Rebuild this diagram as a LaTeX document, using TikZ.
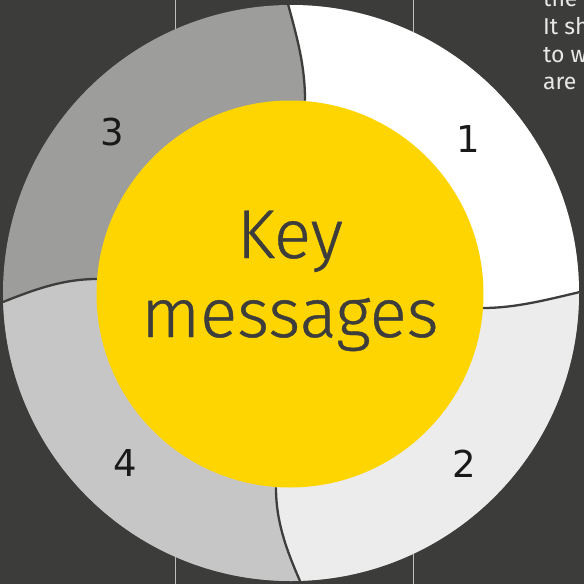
\documentclass[tikz,border=0pt]{standalone}
\usepackage{fontspec}
\newfontfamily\keyfont{Fira Sans Light}[FakeBold=0.6]
\newfontfamily\notefont{Fira Sans}
\newfontfamily\numfont{DejaVu Sans}
\definecolor{bg}{RGB}{60,60,59}
\definecolor{rule}{RGB}{190,190,190}
\definecolor{seg1}{RGB}{255,255,255}
\definecolor{seg2}{RGB}{236,236,236}
\definecolor{seg3}{RGB}{157,157,155}
\definecolor{seg4}{RGB}{198,198,198}
\definecolor{ey}{RGB}{255,213,0}
\definecolor{ink}{RGB}{61,61,60}
\definecolor{note}{RGB}{232,232,232}
\begin{document}
\begin{tikzpicture}[x=1pt,y=-1pt,line join=round,line cap=round,
	divider/.style={line width=2.3pt,ink},
	num/.style={font=\numfont\fontsize{37}{40}\selectfont,text=black!90},
	keytext/.style={font=\keyfont\fontsize{69}{79}\selectfont,text=ink,anchor=base,inner sep=0pt}]
	\coordinate (O) at (291,293);
	\coordinate (Y) at (290,294);
	\coordinate (T) at (288,4);
	\coordinate (T-1) at (297.5,39);
	\coordinate (T-2) at (305,66);
	\coordinate (T-3) at (305,100);
	\coordinate (R) at (580,292);
	\coordinate (R-1) at (546,300);
	\coordinate (R-2) at (515,308);
	\coordinate (R-3) at (483,308);
	\coordinate (B) at (300,581);
	\coordinate (B-1) at (286,549);
	\coordinate (B-2) at (276,521);
	\coordinate (B-3) at (276,488);
	\coordinate (L) at (3,302);
	\coordinate (L-1) at (38,288);
	\coordinate (L-2) at (65,279);
	\coordinate (L-3) at (97,279);
	\fill[bg] (0,0) rectangle (584,584);
	\useasboundingbox (0,0) rectangle (584,584);
	\draw[line width=1pt,rule] (175,0)--(175,584);
	\draw[line width=1pt,rule] (413,0)--(413,584);
	\foreach \y/\t in {6.5/the,34.3/It sh,62.1/to w,89.9/are}
		\node[anchor=base west,inner sep=0pt,text=note,font=\notefont\fontsize{23}{28}\selectfont] at (543,\y) {\t};
	\begin{scope}
		\clip (O) circle[radius=288];
		\fill[seg3] (O) circle[radius=290];
		\fill[seg1] (O)--(T-3) .. controls (T-2) and (T-1) .. (T)--(288,-10)--(600,-10)--(600,292)--(R) .. controls (R-1) and (R-2) .. (R-3)--cycle;
		\fill[seg2] (O)--(R-3) .. controls (R-2) and (R-1) .. (R)--(600,292)--(600,600)--(300,600)--(B) .. controls (B-1) and (B-2) .. (B-3)--cycle;
		\fill[seg4] (O)--(B-3) .. controls (B-2) and (B-1) .. (B)--(300,600)--(-10,600)--(-10,302)--(L) .. controls (L-1) and (L-2) .. (L-3)--cycle;
		\draw[divider] (T) .. controls (T-1) and (T-2) .. (T-3);
		\draw[divider] (R) .. controls (R-1) and (R-2) .. (R-3);
		\draw[divider] (B) .. controls (B-1) and (B-2) .. (B-3);
		\draw[divider] (L) .. controls (L-1) and (L-2) .. (L-3);
	\end{scope}
	\fill[ey] (Y) circle[radius=193.5];
	\node[keytext] (key) at (290,258) {Key};
	\node[keytext] (messages) at (290,337) {messages};
	\node[num] (n1) at (468.5,139.5) {1};
	\node[num] (n2) at (464,463.5) {2};
	\node[num] (n3) at (112.5,132.5) {3};
	\node[num] (n4) at (125.5,463.5) {4};
\end{tikzpicture}
\end{document}
